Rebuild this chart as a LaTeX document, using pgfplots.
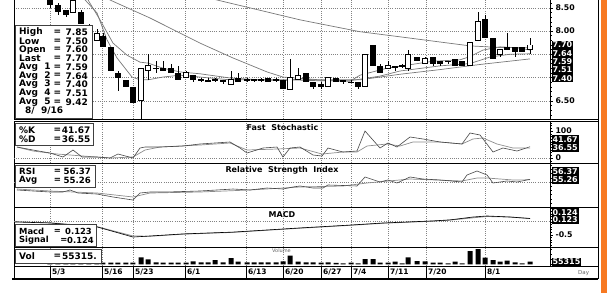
\documentclass[border=0pt]{standalone}
\usepackage{pgfplots}
\pgfplotsset{compat=1.18}
\usepackage{pgfplotstable}
\usepackage{fontspec}
\setmainfont{DejaVu Sans}
\definecolor{orangebar}{RGB}{247,121,34}
\definecolor{gridc}{RGB}{130,130,130}
\definecolor{mac}{RGB}{120,120,120}
\definecolor{lnA}{RGB}{70,70,70}
\definecolor{lnB}{RGB}{140,140,140}

% black (falling) candles: x o h l c  (x = chart position)
\pgfplotstableread{
x o h l c
50 8.70 8.75 8.50 8.55
58 8.55 8.60 8.35 8.40
66 8.45 8.45 8.30 8.35
81 8.40 8.45 8.15 8.15
89 8.10 8.15 7.95 8.00
103 7.90 7.95 7.65 7.65
111 7.65 7.65 7.15 7.15
118 7.10 7.15 6.70 7.00
126 6.95 6.95 6.80 6.80
133 6.80 6.80 6.45 6.45
156 7.20 7.35 7.10 7.20
163 7.20 7.35 7.15 7.15
171 7.20 7.30 7.10 7.10
178 7.10 7.25 6.95 6.95
193 7.05 7.05 6.90 6.95
201 6.95 7.00 6.90 6.95
208 6.95 7.00 6.90 6.90
215 6.95 7.00 6.90 6.95
223 6.95 6.95 6.85 6.90
238 7.00 7.10 6.90 6.90
247 6.95 7.00 6.90 6.95
254 6.95 6.95 6.90 6.95
261 6.95 7.00 6.90 6.95
268 7.00 7.00 6.90 6.90
276 6.95 7.00 6.90 6.95
283 6.95 6.95 6.75 6.75
306 7.10 7.10 6.90 6.90
313 6.90 6.90 6.75 6.80
321 6.85 6.90 6.75 6.80
336 7.00 7.00 6.90 6.90
343 6.95 6.95 6.85 6.90
351 6.90 6.95 6.90 6.90
358 6.90 6.90 6.75 6.80
373 7.70 7.70 7.25 7.25
380 7.25 7.30 7.10 7.10
395 7.25 7.25 7.15 7.20
402 7.25 7.30 7.20 7.25
417 7.45 7.45 7.35 7.35
433 7.45 7.45 7.25 7.30
440 7.35 7.35 7.25 7.30
448 7.35 7.35 7.30 7.35
455 7.40 7.40 7.25 7.25
462 7.35 7.35 7.25 7.25
485 8.25 8.35 7.85 7.85
493 7.85 7.85 7.40 7.40
507 7.65 7.95 7.60 7.60
515 7.65 7.65 7.45 7.55
522 7.65 7.65 7.55 7.55
}\blackc

% white (rising) candles
\pgfplotstableread{
x o h l c
73 8.40 8.70 8.40 8.65
97 7.80 8.05 7.80 7.95
141 6.50 7.20 6.10 7.20
148 7.15 7.50 6.95 7.25
186 7.00 7.15 7.00 7.10
231 6.85 7.15 6.85 6.95
290 6.75 7.40 6.75 7.00
298 6.95 7.20 6.95 7.05
328 6.80 7.00 6.80 7.00
365 6.80 7.50 6.80 7.50
388 7.20 7.35 7.20 7.25
408 7.20 7.60 7.15 7.50
425 7.30 7.45 7.30 7.40
470 7.25 7.75 7.25 7.75
478 7.80 8.40 7.80 8.20
500 7.50 7.60 7.45 7.60
530 7.60 7.85 7.50 7.70
}\whitec

% volume
\pgfplotstableread{
x v
50 35000
58 35000
66 35000
73 35000
81 35000
89 35000
97 35000
103 35000
111 35000
118 35000
126 35000
133 35000
141 143500
148 102500
156 41000
163 35000
171 35000
178 35000
186 35000
193 61500
201 41000
208 41000
215 88000
223 41000
231 129000
238 55000
247 41000
254 41000
261 41000
268 41000
276 41000
283 61500
290 176000
298 55000
306 41000
313 41000
321 35000
328 41000
336 30000
343 20500
351 35000
358 20500
365 108500
373 108500
380 35000
388 35000
395 55000
402 20500
408 143500
417 67500
425 61500
433 35000
440 35000
448 20500
455 55000
462 20500
470 272500
478 313500
485 137000
493 88000
500 55000
507 76000
515 41000
522 20500
530 55315
}\volc

\begin{document}
\begin{tikzpicture}[x=1pt,y=1pt]
\useasboundingbox (0pt,0pt) rectangle (614pt,-293pt);
\clip (0pt,0pt) rectangle (614pt,-293pt);
\pgfplotsset{
  panel/.style={
    scale only axis, width=536pt, xmin=14, xmax=550, anchor=north west,
    axis line style={draw=black, line width=0.8pt},
    xtick={50,102,133,185,246,283,321,351,388,426,485},
    xticklabels={}, xmajorgrids,
    grid style={draw=gridc, line width=0.5pt, dash pattern=on 0.6pt off 1.6pt},
    ytick pos=right, tick align=outside,
    major tick length=2.5pt, minor tick length=1.5pt,
    tick style={draw=black, line width=0.4pt},
    xtick style={draw=none},
    scaled y ticks=false,
    yticklabel style={font=\bfseries\fontsize{7.8}{8}\selectfont, anchor=west, xshift=-0.5pt, text=black},
    /pgf/number format/assume math mode=true,
  },
  cwick/.style n args={2}{draw=none, forget plot,
    error bars/.cd, y dir=both, y explicit, error mark=none,
    error bar style={draw=#2, line width=#1}},
}

% ---------------- price panel ----------------
\begin{axis}[panel, at={(14pt,10pt)}, height=129pt, ymin=6.1075, ymax=8.8817,
  ytick={6.5,7,7.5,8,8.5}, yticklabels={6.50,,,8.00,8.50},
  minor ytick={6.2,6.3,...,8.8}, ymajorgrids]
% moving averages
\addplot[mac, line width=0.7pt] coordinates {(195,8.80) (217,8.667) (300,8.24) (360,7.985) (400,7.875) (470,7.68) (500,7.645) (530,7.64)};
\addplot[mac, line width=0.7pt] coordinates {(102,8.80) (110,8.667) (150,8.28) (200,7.74) (233,7.42) (267,7.12) (283,7.01) (320,6.95) (360,6.95) (400,7.07) (440,7.17) (480,7.28) (530,7.40)};
\addplot[mac, line width=0.7pt] coordinates {(80,8.80) (85,8.67) (97,8.39) (107,7.81) (117,7.42) (132,7.01) (140,6.95) (148,6.95) (163,7.01) (180,7.05) (200,7.01) (230,6.95) (260,6.95) (283,6.93) (300,6.97) (330,6.93) (350,6.92) (360,7.05) (387,7.20) (433,7.35) (460,7.38) (470,7.45) (483,7.59) (500,7.66) (517,7.64) (530,7.59)};
\addplot[mac, line width=0.7pt] coordinates {(82,8.80) (88,8.67) (100,8.24) (113,7.74) (127,7.48) (140,7.33) (148,7.31) (163,7.20) (180,7.12) (200,7.08) (230,6.99) (260,6.95) (290,6.95) (320,6.93) (350,6.93) (380,7.03) (400,7.14) (440,7.25) (470,7.30) (490,7.44) (510,7.50) (530,7.51)};
% wicks
\addplot[cwick={0.9pt}{black}] table[x=x, y expr={(\thisrow{h}+\thisrow{l})/2}, y error expr={(\thisrow{h}-\thisrow{l})/2}] {\blackc};
\addplot[cwick={0.9pt}{black}] table[x=x, y expr={(\thisrow{h}+\thisrow{l})/2}, y error expr={(\thisrow{h}-\thisrow{l})/2}] {\whitec};
% black bodies
\addplot[cwick={5.4pt}{black}] table[x=x, y expr={(\thisrow{o}+\thisrow{c})/2}, y error expr={max(abs(\thisrow{o}-\thisrow{c})/2,0.012)}] {\blackc};
% white bodies
\addplot[cwick={5.4pt}{black}] table[x=x, y expr={(\thisrow{o}+\thisrow{c})/2}, y error expr={abs(\thisrow{o}-\thisrow{c})/2+0.009}] {\whitec};
\addplot[cwick={3.8pt}{white}] table[x=x, y expr={(\thisrow{o}+\thisrow{c})/2}, y error expr={max(abs(\thisrow{o}-\thisrow{c})/2-0.009,0)}] {\whitec};
\end{axis}

% ---------------- fast stochastic ----------------
\begin{axis}[panel, at={(14pt,-121pt)}, height=42pt, ymin=-18.5, ymax=137,
  ytick={0,100}, minor ytick={-10,10,20,...,130}, yticklabels={0,100},
  extra y ticks={0}, extra y tick labels={}, extra y tick style={grid=major, major tick length=0pt}]
\addplot[lnB, line width=0.7pt] coordinates {(17,40.7) (33,25.9) (57,14.8) (83,7.4) (110,0) (133,3.7) (145,29.6) (160,40.7) (200,48.1) (230,55.6) (247,29.6) (277,33.3) (300,37) (322,14.8) (343,22.2) (357,22.2) (367,44.4) (387,51.9) (400,44.4) (413,59.3) (440,59.3) (462,51.9) (473,70.4) (483,74.1) (497,51.9) (513,37) (530,36.55)};
\addplot[lnA, line width=0.6pt] coordinates {(17,40.7) (33,29.6) (50,18.5) (63,3.7) (73,29.6) (82,3.7) (97,3.7) (110,0) (118,14.8) (133,0) (140,37) (145,40.7) (160,40.7) (183,44.4) (200,51.9) (230,59.3) (240,37) (247,18.5) (263,37) (277,40.7) (283,3.7) (290,37) (300,40.7) (313,11.1) (322,7.4) (328,37) (343,22.2) (357,25.9) (365,100) (380,37) (388,55.6) (397,40.7) (410,77.8) (423,70.4) (440,59.3) (462,51.9) (470,92.6) (480,85.2) (493,22.2) (503,37) (517,25.9) (530,41.67)};
\end{axis}

% ---------------- RSI ----------------
\begin{axis}[panel, at={(14pt,-163pt)}, height=44pt, ymin=-9.5, ymax=95.2,
  ytick={50}, yticklabels={50}, minor ytick={0,10,...,90},
  extra y ticks={50}, extra y tick labels={}, extra y tick style={grid=major, major tick length=0pt}]
\addplot[lnB, line width=0.7pt] coordinates {(17,33.3) (50,28.6) (97,23.8) (133,14.3) (150,23.8) (200,26.2) (250,31) (300,38.1) (343,40.5) (367,47.6) (410,57.1) (462,52.4) (477,59.5) (487,59.5) (513,54.8) (530,55.26)};
\addplot[lnA, line width=0.6pt] coordinates {(17,31) (33,28.6) (50,26.2) (63,26.2) (70,31) (78,23.8) (97,21.4) (113,14.3) (133,7.1) (140,23.8) (150,26.2) (167,26.2) (200,28.6) (233,33.3) (250,31) (267,35.7) (283,33.3) (293,38.1) (300,40.5) (313,35.7) (323,35.7) (328,42.9) (357,40.5) (365,61.9) (380,50) (388,54.8) (397,47.6) (410,61.9) (423,57.1) (440,54.8) (462,50) (467,66.7) (477,76.2) (487,66.7) (493,47.6) (507,52.4) (517,50) (530,56.37)};
\end{axis}

% ---------------- MACD ----------------
\begin{axis}[panel, at={(14pt,-207pt)}, height=40pt, ymin=-0.973, ymax=0.565,
  ytick={-0.5,0}, yticklabels={-0.5,0}, minor ytick={-0.9,-0.8,...,0.5},
  extra y ticks={0}, extra y tick labels={}, extra y tick style={grid=major, major tick length=0pt}]
\addplot[lnB, line width=0.8pt] coordinates {(15,0.0) (50,-0.04) (97,-0.19) (133,-0.55) (150,-0.56) (183,-0.48) (233,-0.41) (300,-0.25) (350,-0.14) (383,-0.06) (433,0.02) (450,0.06) (473,0.15) (487,0.20) (510,0.18) (530,0.124)};
\addplot[black, line width=0.6pt] coordinates {(15,-0.01) (50,-0.05) (97,-0.20) (133,-0.59) (150,-0.55) (183,-0.47) (233,-0.40) (300,-0.24) (350,-0.13) (383,-0.05) (433,0.03) (450,0.07) (473,0.18) (487,0.22) (510,0.18) (530,0.123)};
\end{axis}

% ---------------- volume ----------------
\begin{axis}[panel, at={(14pt,-247pt)}, height=19pt, ymin=-34850, ymax=354650,
  ytick={0}, yticklabels={}, minor ytick={100000,200000,300000}]
\addplot[ybar, bar width=5pt, fill=black, draw=none] table[x=x, y=v] {\volc};
\end{axis}

% ---------------- date row ----------------
\begin{axis}[scale only axis, width=536pt, height=13pt, at={(14pt,-266pt)}, anchor=north west,
  xmin=14, xmax=550, ymin=0, ymax=1, axis line style={draw=none},
  xtick={50,102,133,185,246,283,321,351,388,426,485}, xticklabels={},
  xmajorgrids, grid style={draw=black, line width=0.6pt, solid}, ytick=\empty, major tick length=0pt]
\end{axis}

% frames of the right-hand label column
\draw[black, line width=0.8pt] (550,-119) -- (598,-119) (550,-121) -- (598,-121) (550,-163) -- (598,-163)
  (550,-207) -- (598,-207) (550,-247) -- (598,-247) (550,-266) -- (598,-266);
\draw[black, line width=0.8pt] (598,0) -- (598,-279);
\draw[black, line width=0.8pt] (14,-266) -- (14,-279);
\draw[black, line width=2pt] (12,-279) -- (598,-279);

% date labels
\begin{scope}[every node/.style={anchor=west, inner sep=0pt, font=\bfseries\fontsize{7.5}{7.5}\selectfont}]
\node at (52,-272.5) {5/3};
\node at (104,-272.5) {5/16};
\node at (135,-272.5) {5/23};
\node at (187,-272.5) {6/1};
\node at (248,-272.5) {6/13};
\node at (285,-272.5) {6/20};
\node at (323,-272.5) {6/27};
\node at (353,-272.5) {7/4};
\node at (390,-272.5) {7/11};
\node at (428,-272.5) {7/20};
\node at (487,-272.5) {8/1};
\end{scope}
\node[anchor=west, inner sep=0pt, text=black!60, font=\fontsize{5.5}{6}\selectfont] at (578,-273) {Day};

% panel titles
\begin{scope}[every node/.style={inner sep=0pt, font=\bfseries\fontsize{8}{8}\selectfont}]
\node at (282.5,-127.5) {Fast\ \ Stochastic};
\node at (282,-170.8) {Relative\ \ Strength\ \ Index};
\node at (282,-215) {MACD};
\end{scope}
\node[inner sep=0pt, text=black!60, font=\fontsize{5}{5}\selectfont] at (281.5,-250.5) {Volume};

% legend boxes
\begin{scope}[every node/.style={inner sep=0pt, font=\bfseries\fontsize{9}{9}\selectfont}]
\draw[black!75, line width=0.9pt, fill=white] (15,-25) rectangle (92,-118);
\foreach \lab/\val/\yy in {High/7.85/32.3, Low/7.50/41.0, Open/7.60/49.7, Last/7.70/58.4, Avg\ \ 1/7.59/67.1, Avg\ \ 2/7.64/75.8, Avg\ \ 3/7.40/84.5, Avg\ \ 4/7.51/93.2, Avg\ \ 5/9.42/101.9} {
  \node[anchor=west] at (19,-\yy) {\lab};
  \node at (57.5,-\yy) {=};
  \node[anchor=east] at (88,-\yy) {\val};
}
\node[anchor=west] at (25,-110.8) {8/\ \ 9/16};

\draw[black!75, line width=0.9pt, fill=white] (15,-123) rectangle (93,-145.5);
\node[anchor=west] at (19,-130) {\%K}; \node at (57.5,-130) {=}; \node[anchor=east] at (90.5,-130) {41.67};
\node[anchor=west] at (19,-139.5) {\%D}; \node at (57.5,-139.5) {=}; \node[anchor=east] at (90.5,-139.5) {36.55};

\draw[black!75, line width=0.9pt, fill=white] (15,-165.5) rectangle (95,-187);
\begin{scope}[every node/.style={inner sep=0pt, font=\bfseries\fontsize{8.6}{8.6}\selectfont}]
\node[anchor=west] at (19,-171.8) {RSI}; \node at (57.5,-171.8) {=}; \node[anchor=east] at (91,-171.8) {56.37};
\node[anchor=west] at (19,-180.6) {Avg}; \node at (57.5,-180.6) {=}; \node[anchor=east] at (91,-180.6) {55.26};
\end{scope}

\draw[black!75, line width=0.9pt, fill=white] (15,-224) rectangle (96.5,-246);
\begin{scope}[every node/.style={inner sep=0pt, font=\bfseries\fontsize{8.4}{8.4}\selectfont}]
\node[anchor=west] at (19,-231.8) {Macd}; \node at (57.5,-231.8) {=}; \node[anchor=east] at (92,-231.8) {0.123};
\node[anchor=west] at (19,-240.2) {Signal}; \node at (64,-240.2) {=}; \node[anchor=east] at (94,-240.2) {0.124};
\end{scope}

\draw[black!75, line width=0.9pt, fill=white] (15,-249.3) rectangle (101.5,-263.5);
\node[anchor=west] at (19,-256.5) {Vol}; \node at (57.5,-256.5) {=}; \node[anchor=east] at (97,-256.5) {55315.};
\end{scope}

% right value boxes
\begin{scope}[every node/.style={anchor=west, fill=black, text=white, inner xsep=0.8pt, inner ysep=0pt, minimum height=8.3pt, font=\bfseries\fontsize{8}{8}\selectfont}]
\node at (551.5,-45.0) {7.70};
\node at (551.5,-53.3) {7.64};
\node at (551.5,-61.6) {7.59};
\node at (551.5,-69.9) {7.51};
\node at (551.5,-78.2) {7.40};
\node at (551.5,-139.2) {41.67};
\node at (551.5,-147.6) {36.55};
\node at (551.5,-171.2) {56.37};
\node at (551.5,-179.5) {55.26};
\node at (551.5,-212.3) {0.124};
\node at (551.5,-219.8) {0.123};
\node at (551.5,-261.7) {55315};
\end{scope}

% orange edge
\fill[orangebar] (600.5,0) rectangle (607,-293);
\end{tikzpicture}
\end{document}
